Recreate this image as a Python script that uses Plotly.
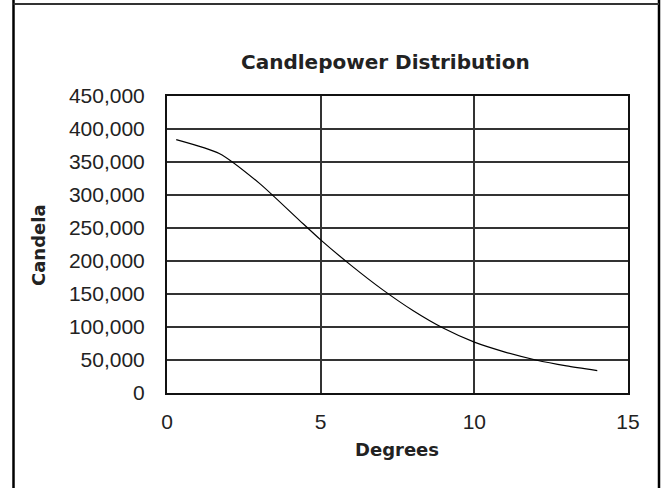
import plotly.graph_objects as go

degrees = [0.3, 1.7, 3.0, 4.3, 5.0, 6.0, 7.0, 8.0, 9.0, 10.0, 11.0, 12.0, 13.0, 14.0]
candela = [384000, 363000, 318000, 262000, 232000, 193000, 157000, 125000, 98000, 77000, 62000, 50000, 41000, 34000]

W, H = 663, 488
L, R, T, B = 167, 628, 96, 393
PW, PH = R - L, B - T

def fx(px):
    return (px - L) / PW

def fy(py):
    return (B - py) / PH

fig = go.Figure(go.Scatter(x=degrees, y=candela, mode="lines",
                           line=dict(color="black", width=1.2, shape="spline", smoothing=0.6),
                           hoverinfo="skip"))

tickfont = dict(family="Liberation Sans, Arial, sans-serif", size=21, color="#222")
titlefont = dict(family="DejaVu Sans, sans-serif", size=20, color="#222")
axfont = dict(family="DejaVu Sans, sans-serif", size=18, color="#222")

fig.update_layout(
    width=W, height=H,
    margin=dict(l=L, r=W - R, t=T, b=H - B),
    paper_bgcolor="white", plot_bgcolor="white",
    showlegend=False,
    xaxis=dict(range=[0, 15], dtick=5, tick0=0, showgrid=True, gridcolor="#333", gridwidth=1.5,
               showline=True, linecolor="#111", linewidth=2, mirror=True, zeroline=False,
               ticks="", ticklabelstandoff=9, tickfont=tickfont, fixedrange=True),
    yaxis=dict(range=[0, 450000], dtick=50000, tick0=0, tickformat=",", showgrid=True,
               gridcolor="#333", gridwidth=1.5,
               showline=True, linecolor="#111", linewidth=2, mirror=True, zeroline=False,
               ticks="", ticklabelstandoff=16, tickfont=tickfont, fixedrange=True),
    annotations=[
        dict(text="<b>Candlepower Distribution</b>", x=fx(385), y=fy(62), xref="paper", yref="paper",
             showarrow=False, xanchor="center", yanchor="middle", font=titlefont),
        dict(text="<b>Candela</b>", x=fx(38), y=fy(245), xref="paper", yref="paper", textangle=-90,
             showarrow=False, xanchor="center", yanchor="middle", font=axfont),
        dict(text="<b>Degrees</b>", x=fx(397), y=fy(450), xref="paper", yref="paper",
             showarrow=False, xanchor="center", yanchor="middle", font=axfont),
    ],
    shapes=[
        dict(type="line", xref="paper", yref="paper", x0=fx(13.5), x1=fx(13.5), y0=fy(0), y1=fy(H),
             line=dict(color="black", width=2.5)),
        dict(type="line", xref="paper", yref="paper", x0=fx(659), x1=fx(659), y0=fy(0), y1=fy(H),
             line=dict(color="black", width=2.5)),
        dict(type="line", xref="paper", yref="paper", x0=fx(13.5), x1=fx(659), y0=fy(4), y1=fy(4),
             line=dict(color="#333", width=2)),
    ],
)

fig.write_html("out.html", config={"displayModeBar": False},
               post_script="document.body.style.margin='0';document.body.style.overflow='hidden';")
